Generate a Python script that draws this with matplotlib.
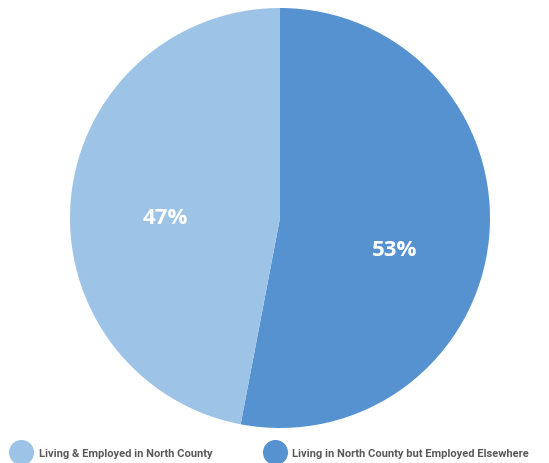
import matplotlib.pyplot as plt
from matplotlib.lines import Line2D

# data
labels = ["Living in North County but Employed Elsewhere", "Living & Employed in North County"]
shares = [53, 47]
colors = ["#5592CF", "#9DC3E6"]

plt.rcParams['font.family'] = ['Open Sans', 'DejaVu Sans']

fig = plt.figure(figsize=(5.49, 4.64), dpi=100)
ax = fig.add_axes([70 / 549, 35 / 464, 420 / 549, 420 / 464])

wedges, texts, autotexts = ax.pie(
    shares, colors=colors, startangle=90, counterclock=False,
    autopct=lambda p: '%d%%' % round(p), pctdistance=0.55,
    wedgeprops={'linewidth': 0},
    textprops={'color': 'white', 'fontsize': 16, 'fontweight': 'bold'})
# nudge the labels down a bit like the original
for t, dy in zip(autotexts, (0.1, 0.05)):
    x, y = t.get_position()
    t.set_position((x, y - dy))
ax.set_xlim(-1, 1)
ax.set_ylim(-1, 1)
ax.set_aspect('equal')
ax.axis('off')

# legend, left entry first
handles = [Line2D([], [], marker='o', linestyle='', markersize=17,
                  markerfacecolor=colors[i], markeredgecolor=colors[i]) for i in (1, 0)]
leg = fig.legend(handles, [labels[1], labels[0]], ncol=2, loc='lower left',
                 bbox_to_anchor=(0.008, -0.01), frameon=False,
                 prop={'family': ['Roboto', 'DejaVu Sans'], 'size': 8, 'weight': 'bold'},
                 handletextpad=1.0, columnspacing=5.0, handlelength=1.2)
for t in leg.get_texts():
    t.set_color('#595959')

fig.savefig('out.png', dpi=100)
